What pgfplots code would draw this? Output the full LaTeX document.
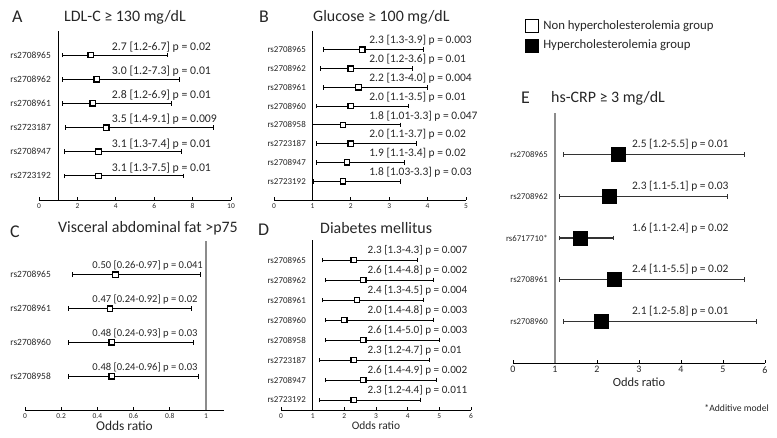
\documentclass[border=0pt]{standalone}
\usepackage{pgfplots}
\usepackage{pgfplotstable}
\pgfplotsset{compat=1.18}
\usepackage{fontspec}
\setmainfont{Carlito}

\definecolor{txt}{HTML}{262626}
\definecolor{refgray}{HTML}{8C8C8C}

\pgfplotsset{
  fp/.style={
    scale only axis, clip=false, anchor=south west,
    axis x line*=bottom, axis y line*=left,
    y axis line style={draw=none},
    x axis line style={line width=0.9bp, -},
    ytick style={draw=none},
    xtick style={line width=0.7bp, black},
    tick align=inside, major tick length=2.5bp,
    xticklabel style={font=\fontsize{7.5}{8}\selectfont, text=txt},
    yticklabel style={font=\fontsize{9}{10}\selectfont, text=txt, inner sep=0pt},
    /pgf/number format/assume math mode=true,
  },
  ci/.style={black, only marks, mark=square*, mark size=2.7bp,
    mark options={fill=white, line width=1.3bp},
    error bars/x dir=both, error bars/x explicit,
    error bars/error mark=|,
    error bars/error bar style={line width=1bp, black},
    error bars/error mark options={mark size=2.3bp, line width=0.9bp}},
}
\tikzset{
  lbl/.style={anchor=west, inner sep=0pt, font=\fontsize{11.5}{12}\selectfont, text=txt},
  ttl/.style={anchor=west, inner sep=0pt, font=\fontsize{16}{17}\selectfont, text=txt},
  plet/.style={anchor=west, inner sep=0pt, font=\fontsize{18}{19}\selectfont, text=txt},
}

% y  OR  lower  upper
\pgfplotstableread{
y or lo hi
6 2.7 1.2 6.7
5 3.0 1.2 7.3
4 2.8 1.2 6.9
3 3.5 1.4 9.1
2 3.1 1.3 7.4
1 3.1 1.3 7.5
}\tabA
\pgfplotstableread{
y or lo hi
8 2.3 1.3 3.9
7 2.0 1.2 3.6
6 2.2 1.3 4.0
5 2.0 1.1 3.5
4 1.8 1.01 3.3
3 2.0 1.1 3.7
2 1.9 1.1 3.4
1 1.8 1.03 3.3
}\tabB
\pgfplotstableread{
y or lo hi
4 0.50 0.26 0.97
3 0.47 0.24 0.92
2 0.48 0.24 0.93
1 0.48 0.24 0.96
}\tabC
\pgfplotstableread{
y or lo hi
8 2.3 1.3 4.3
7 2.6 1.4 4.8
6 2.4 1.3 4.5
5 2.0 1.4 4.8
4 2.6 1.4 5.0
3 2.3 1.2 4.7
2 2.6 1.4 4.9
1 2.3 1.2 4.4
}\tabD
\pgfplotstableread{
y or lo hi
5 2.5 1.2 5.5
4 2.3 1.1 5.1
3 1.6 1.1 2.4
2 2.4 1.1 5.5
1 2.1 1.2 5.8
}\tabE

\newcommand{\ciplot}[2][]{\addplot[ci,#1] table[x=or, y=y,
  x error plus expr=\thisrow{hi}-\thisrow{or},
  x error minus expr=\thisrow{or}-\thisrow{lo}] {#2};}

\begin{document}
\begin{tikzpicture}
\path[use as bounding box] (0,0) rectangle (777bp,438bp);

% ---- A ----
\begin{axis}[fp, at={(39bp,238bp)}, width=192bp, height=169bp,
  xmin=0, xmax=10, ymin=0, ymax=7, xtick={0,2,...,10},
  ytick={1,...,6}, yticklabels={rs2723192,rs2708947,rs2723187,rs2708961,rs2708962,rs2708965},
  yticklabel style={xshift=12bp, font=\fontsize{9.5}{10}\selectfont}]
\addplot[black, line width=1.1bp] coordinates {(1,0) (1,7)};
\ciplot{\tabA}
\node[lbl, font=\fontsize{11.8}{12}\selectfont, yshift=8bp] at (axis cs:3.79,6) {2.7 [1.2-6.7] p = 0.02};
\node[lbl, font=\fontsize{11.8}{12}\selectfont, yshift=8bp] at (axis cs:3.79,5) {3.0 [1.2-7.3] p = 0.01};
\node[lbl, font=\fontsize{11.8}{12}\selectfont, yshift=8bp] at (axis cs:3.79,4) {2.8 [1.2-6.9] p = 0.01};
\node[lbl, font=\fontsize{11.8}{12}\selectfont, yshift=8bp] at (axis cs:3.79,3) {3.5 [1.4-9.1] p = 0.009};
\node[lbl, font=\fontsize{11.8}{12}\selectfont, yshift=8bp] at (axis cs:3.79,2) {3.1 [1.3-7.4] p = 0.01};
\node[lbl, font=\fontsize{11.8}{12}\selectfont, yshift=8bp] at (axis cs:3.79,1) {3.1 [1.3-7.5] p = 0.01};
\end{axis}
\node[plet] at (12bp,421bp) {A};
\node[ttl] at (64bp,421bp) {LDL-C ≥ 130 mg/dL};

% ---- B ----
\begin{axis}[fp, at={(274bp,238bp)}, width=192bp, height=169bp,
  xmin=0, xmax=5, ymin=0, ymax=9, xtick={0,...,5},
  ytick={1,...,8}, yticklabels={rs2723192,rs2708947,rs2723187,rs2708958,rs2708960,rs2708961,rs2708962,rs2708965},
  yticklabel style={xshift=32bp}]
\addplot[black, line width=1.1bp] coordinates {(1,0) (1,9)};
\ciplot{\tabB}
\node[lbl, yshift=9bp] at (axis cs:2.48,8) {2.3 [1.3-3.9] p = 0.003};
\node[lbl, yshift=9bp] at (axis cs:2.48,7) {2.0 [1.2-3.6] p = 0.01};
\node[lbl, yshift=9bp] at (axis cs:2.48,6) {2.2 [1.3-4.0] p = 0.004};
\node[lbl, yshift=9bp] at (axis cs:2.48,5) {2.0 [1.1-3.5] p = 0.01};
\node[lbl, yshift=9bp] at (axis cs:2.48,4) {1.8 [1.01-3.3] p = 0.047};
\node[lbl, yshift=9bp] at (axis cs:2.48,3) {2.0 [1.1-3.7] p = 0.02};
\node[lbl, yshift=9bp] at (axis cs:2.48,2) {1.9 [1.1-3.4] p = 0.02};
\node[lbl, yshift=9bp] at (axis cs:2.48,1) {1.8 [1.03-3.3] p = 0.03};
\end{axis}
\node[plet] at (259bp,421bp) {B};
\node[ttl] at (313bp,421bp) {Glucose ≥ 100 mg/dL};

% ---- C ----
\begin{axis}[fp, at={(25bp,28bp)}, width=199bp, height=169bp,
  xmin=0, xmax=1.1, ymin=0, ymax=5, xtick={0,0.2,...,1},
  ytick={1,...,4}, yticklabels={rs2708958,rs2708960,rs2708961,rs2708965},
  yticklabel style={xshift=26bp, font=\fontsize{9.5}{10}\selectfont},
  xlabel={Odds ratio}, xlabel style={font=\fontsize{13.5}{14}\selectfont, text=txt, yshift=4bp}]
\addplot[refgray, line width=1.3bp] coordinates {(1,0) (1,5)};
\ciplot{\tabC}
\node[lbl, font=\fontsize{10.6}{11}\selectfont, yshift=9bp] at (axis cs:0.372,4) {0.50 [0.26-0.97] p = 0.041};
\node[lbl, font=\fontsize{10.6}{11}\selectfont, yshift=9bp] at (axis cs:0.372,3) {0.47 [0.24-0.92] p = 0.02};
\node[lbl, font=\fontsize{10.6}{11}\selectfont, yshift=9bp] at (axis cs:0.372,2) {0.48 [0.24-0.93] p = 0.03};
\node[lbl, font=\fontsize{10.6}{11}\selectfont, yshift=9bp] at (axis cs:0.372,1) {0.48 [0.24-0.96] p = 0.03};
\end{axis}
\node[plet] at (10bp,206bp) {C};
\node[ttl] at (58bp,210bp) {Visceral abdominal fat >p75};

% ---- D ----
\begin{axis}[fp, at={(281bp,28bp)}, width=190bp, height=170bp,
  xmin=0, xmax=6, ymin=0.5, ymax=9, xtick={0,...,6},
  ytick={1,...,8}, yticklabels={rs2723192,rs2708947,rs2723187,rs2708958,rs2708960,rs2708961,rs2708962,rs2708965},
  yticklabel style={xshift=25bp},
  xlabel={Odds ratio}, xlabel style={font=\fontsize{11.5}{12}\selectfont, text=txt, yshift=4bp}]
\addplot[black, line width=1.1bp] coordinates {(1,0.5) (1,9)};
\ciplot{\tabD}
\node[lbl, font=\fontsize{11.2}{12}\selectfont, yshift=10bp] at (axis cs:2.73,8) {2.3 [1.3-4.3] p = 0.007};
\node[lbl, font=\fontsize{11.2}{12}\selectfont, yshift=10bp] at (axis cs:2.73,7) {2.6 [1.4-4.8] p = 0.002};
\node[lbl, font=\fontsize{11.2}{12}\selectfont, yshift=10bp] at (axis cs:2.73,6) {2.4 [1.3-4.5] p = 0.004};
\node[lbl, font=\fontsize{11.2}{12}\selectfont, yshift=10bp] at (axis cs:2.73,5) {2.0 [1.4-4.8] p = 0.003};
\node[lbl, font=\fontsize{11.2}{12}\selectfont, yshift=10bp] at (axis cs:2.73,4) {2.6 [1.4-5.0] p = 0.003};
\node[lbl, font=\fontsize{11.2}{12}\selectfont, yshift=10bp] at (axis cs:2.73,3) {2.3 [1.2-4.7] p = 0.01};
\node[lbl, font=\fontsize{11.2}{12}\selectfont, yshift=10bp] at (axis cs:2.73,2) {2.6 [1.4-4.9] p = 0.002};
\node[lbl, font=\fontsize{11.2}{12}\selectfont, yshift=10bp] at (axis cs:2.73,1) {2.3 [1.2-4.4] p = 0.011};
\end{axis}
\node[plet] at (258bp,208bp) {D};
\node[ttl] at (320bp,210bp) {Diabetes mellitus};

% ---- E ----
\begin{axis}[fp, at={(513bp,75bp)}, width=252bp, height=250bp,
  xmin=0, xmax=6, ymin=0, ymax=6, xtick={0,...,6},
  xticklabel style={font=\fontsize{10}{11}\selectfont},
  ytick={1,...,5}, yticklabels={rs2708960,rs2708961,rs6717710*,rs2708962,rs2708965},
  yticklabel style={xshift=35bp, font=\fontsize{8.8}{10}\selectfont},
  xlabel={Odds ratio}, xlabel style={font=\fontsize{12.5}{13}\selectfont, text=txt, yshift=2bp},
  legend style={at={(axis description cs:0.048,1.378)}, anchor=north west, draw=none, fill=none,
    font=\fontsize{12.8}{13}\selectfont, text=txt, row sep=5bp, column sep=3bp, inner sep=0pt,
    nodes={inner sep=2bp}},
  legend image code/.code={\draw[#1] plot coordinates {(0bp,0bp)};},
  legend cell align=left]
\addlegendimage{only marks, mark=square, mark size=6.5bp, mark options={black, line width=0.8bp}}
\addlegendentry{Non hypercholesterolemia group}
\addlegendimage{only marks, mark=square*, mark size=6.5bp, black}
\addlegendentry{Hypercholesterolemia group}
\addplot[refgray, line width=1.3bp, forget plot] coordinates {(1,0) (1,6)};
\ciplot[mark size=7bp, mark options={fill=black, line width=0.5bp}, forget plot,
  error bars/error bar style={line width=1.2bp, black!80}]{\tabE}
\node[lbl, yshift=10bp] at (axis cs:2.83,5) {2.5 [1.2-5.5] p = 0.01};
\node[lbl, yshift=10bp] at (axis cs:2.83,4) {2.3 [1.1-5.1] p = 0.03};
\node[lbl, yshift=10bp] at (axis cs:2.83,3) {1.6 [1.1-2.4] p = 0.02};
\node[lbl, yshift=10bp] at (axis cs:2.83,2) {2.4 [1.1-5.5] p = 0.02};
\node[lbl, yshift=10bp] at (axis cs:2.83,1) {2.1 [1.2-5.8] p = 0.01};
\end{axis}
\node[plet] at (521bp,340bp) {E};
\node[ttl] at (551bp,340bp) {hs-CRP ≥ 3 mg/dL};
\node[anchor=east, inner sep=0pt, font=\fontsize{9.7}{10}\selectfont, text=txt] at (769bp,30bp) {*Additive model};
\end{tikzpicture}
\end{document}
